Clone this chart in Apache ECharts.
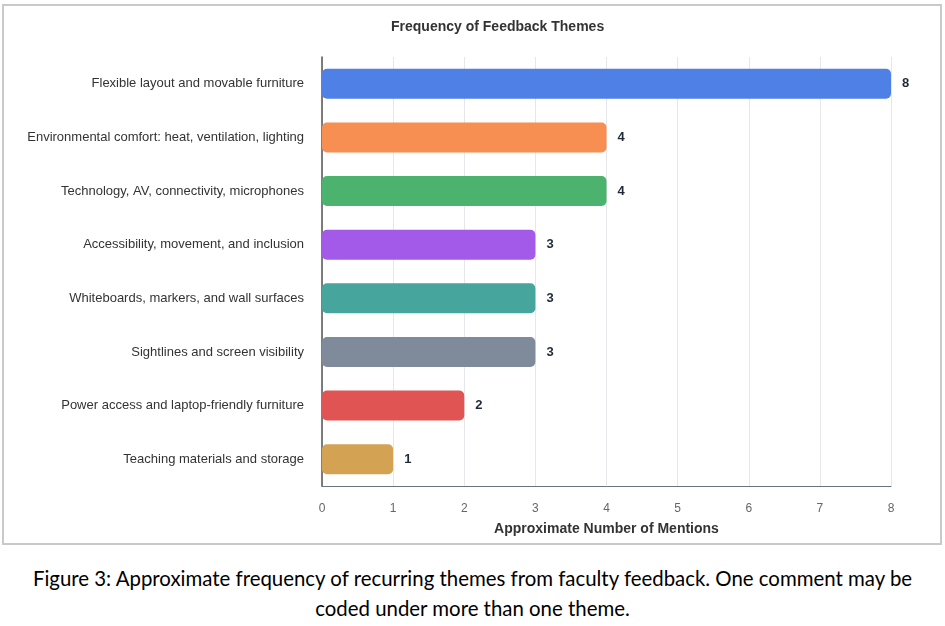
<!DOCTYPE html>
<html lang="en" style="height: 100%">
<head>
  <meta charset="utf-8">
  <style>
    body { margin: 0; background: #fff; }
    #frame { position: absolute; left: 2px; top: 4px; width: 936px; height: 537px; border: 2px solid #c9c9c9; }
    #container { position: absolute; left: 0; top: 0; width: 945px; height: 545px; }
    #caption { position: absolute; left: 0; top: 563px; width: 945px; text-align: center;
      font-family: Lato, "Open Sans", sans-serif; font-size: 20.4px; line-height: 30px; color: #000; }
  </style>
</head>
<body>
  <div id="frame"></div>
  <div id="container"></div>
  <div id="caption">Figure 3: Approximate frequency of recurring themes from faculty feedback. One comment may be<br>coded under more than one theme.</div>

  <script type="text/javascript" src="https://fastly.jsdelivr.net/npm/echarts@6/dist/echarts.min.js"></script>
  <script type="text/javascript">
    // feedback themes, top to bottom
    var themes = [
      'Flexible layout and movable furniture',
      'Environmental comfort: heat, ventilation, lighting',
      'Technology, AV, connectivity, microphones',
      'Accessibility, movement, and inclusion',
      'Whiteboards, markers, and wall surfaces',
      'Sightlines and screen visibility',
      'Power access and laptop-friendly furniture',
      'Teaching materials and storage'
    ];
    var mentions = [8, 4, 4, 3, 3, 3, 2, 1];
    var barColors = ['#4f80e6', '#f78e52', '#4cb36f', '#a35ae8', '#46a69e', '#7f8b9b', '#e05454', '#d4a253'];
    var xTicks = [0, 1, 2, 3, 4, 5, 6, 7, 8];

    var dom = document.getElementById('container');
    var myChart = echarts.init(dom, null, { renderer: 'canvas' });

    var option = {
      animation: false,
      title: {
        text: 'Frequency of Feedback Themes',
        left: 386,
        top: 15,
        textStyle: { fontFamily: 'Liberation Sans', fontSize: 14, fontWeight: 'bold', color: '#333' }
      },
      grid: { left: 322, right: 54, top: 57, bottom: 59, containLabel: false },
      xAxis: {
        type: 'value',
        min: xTicks[0],
        max: xTicks[xTicks.length - 1],
        interval: 1,
        name: 'Approximate Number of Mentions',
        nameLocation: 'middle',
        nameGap: 36,
        nameTextStyle: { fontFamily: 'Liberation Sans', fontSize: 14, fontWeight: 'bold', color: '#333' },
        axisLine: { show: true, lineStyle: { color: '#6b7280', width: 1 } },
        axisTick: { show: false },
        axisLabel: { margin: 17, fontFamily: 'Liberation Sans', fontSize: 12, color: '#666' },
        splitLine: { show: true, lineStyle: { color: '#e6e7ea' } }
      },
      yAxis: {
        type: 'category',
        inverse: true,
        data: themes,
        axisLine: { show: true, lineStyle: { color: '#555', width: 1.5 } },
        axisTick: { show: false },
        axisLabel: { margin: 18, fontFamily: 'Liberation Sans', fontSize: 13, color: '#333' }
      },
      series: [{
        type: 'bar',
        barWidth: 30,
        data: mentions.map(function (v, i) {
          return { value: v, itemStyle: { color: barColors[i] } };
        }),
        itemStyle: { borderRadius: 5 },
        label: {
          show: true,
          position: 'right',
          distance: 11,
          fontFamily: 'Liberation Sans',
          fontSize: 13,
          fontWeight: 'bold',
          color: '#1f2937'
        }
      }]
    };

    myChart.setOption(option);
    window.addEventListener('resize', myChart.resize);
  </script>
</body>
</html>
